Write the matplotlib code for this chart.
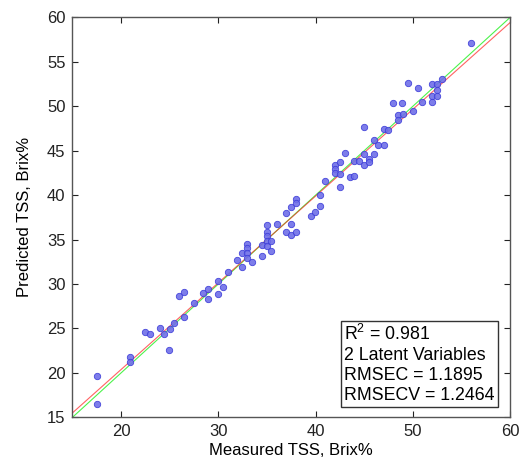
import numpy as np
import matplotlib
matplotlib.use('Agg')
import matplotlib.pyplot as plt

plt.rcParams['font.family'] = ['Liberation Sans', 'DejaVu Sans']

# Measured vs predicted TSS (Brix%)
measured = [17.47, 17.47, 20.9, 20.9, 22.48, 22.92, 23.95, 24.43, 24.95, 24.98,
            25.46, 25.97, 26.45, 26.45, 27.45, 28.45, 28.96, 28.96, 29.95, 29.95,
            30.46, 30.95, 31.94, 32.46, 32.46, 32.93, 32.93, 32.93, 32.93, 33.45,
            34.48, 34.48, 34.96, 34.96, 34.96, 34.96, 34.96, 35.44, 35.44, 35.99,
            36.98, 36.98, 37.46, 37.46, 37.46, 37.94, 37.94, 37.94, 39.49, 39.97,
            40.41, 40.41, 41.0, 42.47, 41.99, 41.99, 41.99, 42.47, 42.47, 43.01,
            43.5, 43.94, 43.94, 44.46, 44.94, 44.94, 44.94, 45.45, 45.45, 45.97,
            45.97, 46.45, 46.99, 46.99, 47.48, 47.99, 48.51, 48.51, 48.92, 49.02,
            49.98, 49.5, 50.5, 50.98, 51.97, 51.97, 51.97, 52.45, 52.45, 52.45,
            52.99, 55.92]
predicted = [19.68, 16.5, 21.8, 21.2, 24.57, 24.35, 25.1, 24.38, 22.54, 24.98,
             25.58, 28.66, 29.07, 26.33, 27.87, 28.96, 29.48, 28.29, 30.38, 28.88,
             29.64, 31.36, 32.68, 33.5, 31.96, 34.55, 34.03, 33.5, 32.94, 32.45,
             34.4, 33.2, 36.62, 35.87, 35.34, 34.82, 34.32, 34.82, 33.76, 36.73,
             37.97, 35.79, 38.68, 36.8, 35.53, 39.58, 39.1, 35.79, 37.67, 38.08,
             38.76, 39.96, 41.58, 40.9, 43.41, 42.93, 42.43, 43.72, 42.4, 44.69,
             41.98, 42.14, 43.79, 43.86, 47.61, 44.65, 43.33, 44.09, 43.72, 46.15,
             44.62, 45.63, 47.47, 45.63, 47.35, 50.36, 48.96, 48.48, 50.32, 49.12,
             49.46, 52.61, 52.05, 50.47, 52.5, 51.15, 50.47, 52.5, 51.82, 51.15,
             53.06, 57.12]

fit_slope = 0.976
fit_intercept = 0.86
limits = [15, 60]
stats_text = '$\\mathregular{R^2}$ = 0.981\n2 Latent Variables\nRMSEC = 1.1895\nRMSECV = 1.2464'

fig = plt.figure(figsize=(5.23, 4.61), dpi=100)
ax = fig.add_axes([0.1386, 0.0948, 0.837, 0.8677])

xl = np.array(limits)
ax.plot(xl, xl, color='#00ee00', linewidth=0.8, alpha=0.7)
ax.plot(xl, fit_slope*xl + fit_intercept, color='#ff2020', linewidth=0.8, alpha=0.7)
ax.plot(measured, predicted, 'o', markersize=4.6, markerfacecolor='#6f6fe8',
        markeredgecolor='#3a3ad8', markeredgewidth=0.6, linestyle='none', alpha=0.9)

ax.set_xlim(limits)
ax.set_ylim(limits)
ax.set_xticks(np.arange(20, 61, 10))
ax.set_yticks(np.arange(15, 61, 5))
ax.tick_params(direction='in', length=4, width=0.8, top=True, right=True,
               labelsize=12, colors='#222222', pad=5)
for s in ax.spines.values():
    s.set_color('#555555')
    s.set_linewidth(1.0)

ax.set_xlabel('Measured TSS, Brix%', fontsize=12, labelpad=3)
ax.set_ylabel('Predicted TSS, Brix%', fontsize=12, labelpad=11)

ax.text(0.621, 0.233, stats_text, transform=ax.transAxes, fontsize=12.8,
        va='top', ha='left', linespacing=1.22,
        bbox=dict(boxstyle='square,pad=0.2', facecolor='white', edgecolor='#333333', linewidth=1.0))

fig.savefig('out.png', dpi=100)
